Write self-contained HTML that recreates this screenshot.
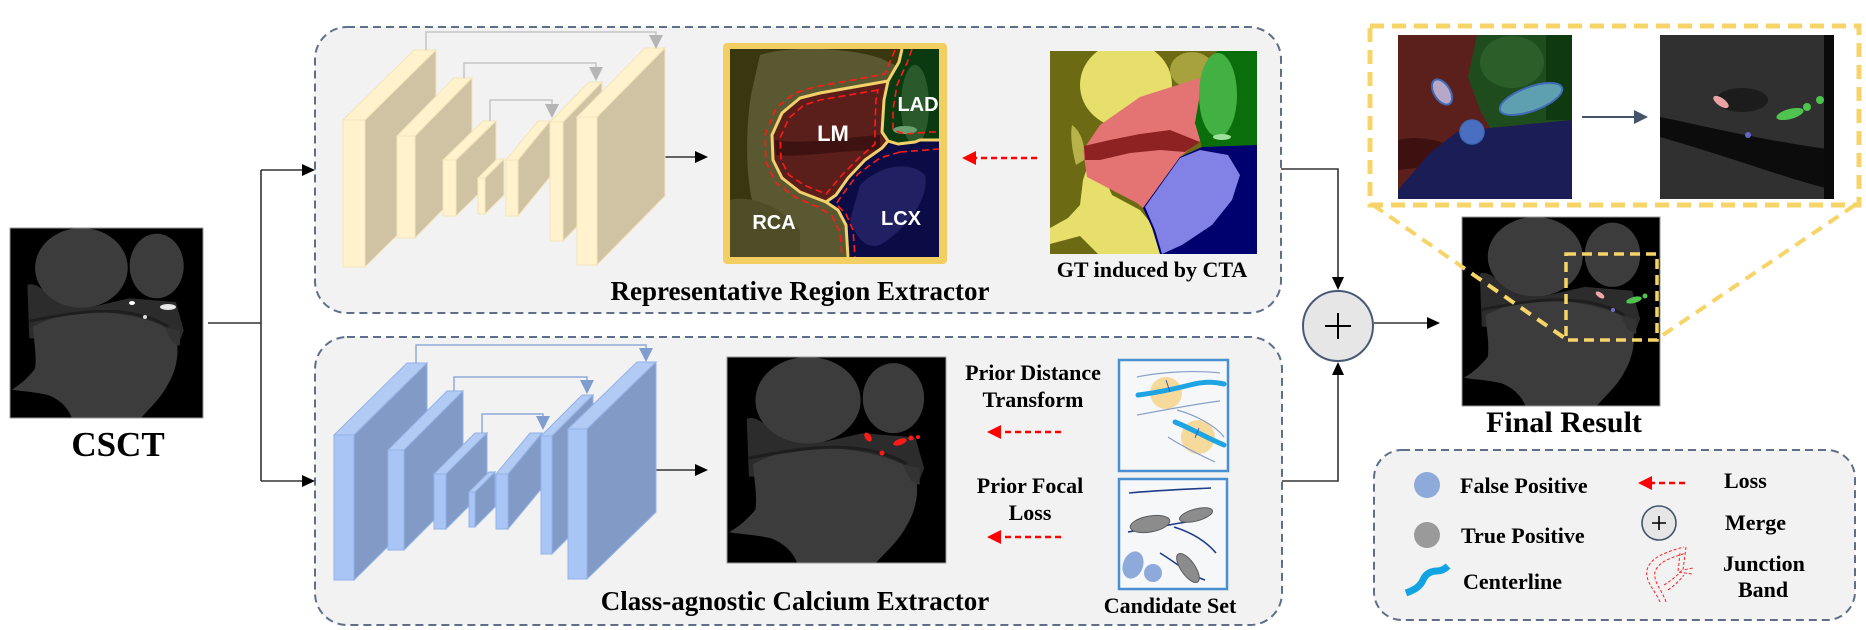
<!DOCTYPE html>
<html><head><meta charset="utf-8"><style>
html,body{margin:0;padding:0;background:#fff;}
svg{display:block;}
.t{font-family:"Liberation Serif",serif;font-weight:bold;fill:#000;}
.s{font-family:"Liberation Sans",sans-serif;font-weight:bold;fill:#fff;}
</style></head><body>
<svg width="1866" height="630" viewBox="0 0 1866 630" xmlns="http://www.w3.org/2000/svg">
<defs>
<symbol id="heart" viewBox="0 0 100 100" preserveAspectRatio="none">
 <rect width="100" height="100" fill="#000"/>
 <path d="M9 30 C14 28 18 34 25 39 L45 41 L62 37 L86 39 L90 54 L87 62 L10 58 Z" fill="#2c2c2c"/>
 <ellipse cx="37" cy="21" rx="24" ry="21" fill="#3c3c3c"/>
 <ellipse cx="76" cy="20" rx="14" ry="17" fill="#3c3c3c"/>
 <path d="M12 52 C22 46 35 44 45 44 C60 45 72 48 80 52 L86 58 C88 66 86 75 82 82 C78 90 72 95 68 100 L32 100 C30 94 25 90 20 88 C12 86 5 86 1 85 C6 82 10 78 13 74 C14 66 12 58 12 52 Z" fill="#3c3c3c"/>
 <path d="M10 49 C25 46 40 43 55 44 C68 45 76 48 82 52" fill="none" stroke="#1e1e1e" stroke-width="1.5"/>
 <path d="M80 52 L88 54 L88 62 L84 60 Z" fill="#333"/>
</symbol>
<clipPath id="lmclip"><rect x="730" y="49" width="209" height="208"/></clipPath>
<clipPath id="gtclip"><rect x="1050" y="51" width="207" height="203"/></clipPath>
<clipPath id="zlclip"><rect x="1398" y="35" width="174" height="164"/></clipPath>
<clipPath id="zrclip"><rect x="1660" y="35" width="174" height="164"/></clipPath>
</defs>

<!-- Boxes -->
<rect x="315" y="27" width="966" height="286" rx="32" fill="#f2f2f2" stroke="#5f6f8a" stroke-width="2" stroke-dasharray="8 5"/>
<rect x="315" y="337" width="967" height="288" rx="32" fill="#f2f2f2" stroke="#5f6f8a" stroke-width="2" stroke-dasharray="8 5"/>
<rect x="1374" y="450" width="481" height="170" rx="28" fill="#f2f2f2" stroke="#5f6f8a" stroke-width="2" stroke-dasharray="8 5"/>

<!-- CSCT -->
<use href="#heart" x="10" y="228" width="193" height="190"/>
<rect x="10" y="228" width="193" height="190" fill="none" stroke="#999" stroke-width="1"/>
<ellipse cx="132" cy="303" rx="3" ry="2" fill="#fff"/>
<ellipse cx="145" cy="317" rx="2" ry="2" fill="#ddd"/>
<ellipse cx="168" cy="307" rx="8" ry="3" fill="#e8e8e8"/>
<text class="t" x="118" y="456" font-size="35" text-anchor="middle">CSCT</text>

<!-- connectors from CSCT -->
<g stroke="#333" stroke-width="1.6" fill="none">
<path d="M208 323 H261 M261 170 V481 M261 170 H303 M261 481 H303"/>
<path d="M645 157 H696 M645 470 H696"/>
<path d="M1281 169 H1338 V278 M1282 481 H1338 V375 M1374 323 H1428"/>
</g>
<g fill="#000">
<polygon points="302,164 315,170 302,176"/>
<polygon points="302,475 315,481 302,487"/>
<polygon points="695,151 708,157 695,163"/>
<polygon points="695,464 708,470 695,476"/>
<polygon points="1332,277 1344,277 1338,290"/>
<polygon points="1332,375 1344,375 1338,362"/>
<polygon points="1427,317 1440,323 1427,329"/>
</g>

<!-- Top U-Net -->
<g stroke="#f3e4bb" stroke-width="1">
<polygon points="343,120 365,120 436,50 414,50" fill="#fff2cc"/><polygon points="365,120 436,50 436,197 365,267" fill="#cfc3a4"/><rect x="343" y="120" width="22" height="147" fill="#fff2cc"/>
<polygon points="397,136 415,136 472,78 454,78" fill="#fff2cc"/><polygon points="415,136 472,78 472,180 415,238" fill="#cfc3a4"/><rect x="397" y="136" width="18" height="102" fill="#fff2cc"/>
<polygon points="443,160 456,160 496,121 483,121" fill="#fff2cc"/><polygon points="456,160 496,121 496,177 456,216" fill="#cfc3a4"/><rect x="443" y="160" width="13" height="56" fill="#fff2cc"/>
<polygon points="478,178 485,178 504,159 497,159" fill="#fff2cc"/><polygon points="485,178 504,159 504,195 485,214" fill="#cfc3a4"/><rect x="478" y="178" width="7" height="36" fill="#fff2cc"/>
<polygon points="506,160 518,160 550,121 538,121" fill="#fff2cc"/><polygon points="518,160 550,121 550,177 518,216" fill="#cfc3a4"/><rect x="506" y="160" width="12" height="56" fill="#fff2cc"/>
<polygon points="550,122 563,122 602,82 589,82" fill="#fff2cc"/><polygon points="563,122 602,82 602,201 563,241" fill="#cfc3a4"/><rect x="550" y="122" width="13" height="119" fill="#fff2cc"/>
<polygon points="577,117 597,117 665,48 645,48" fill="#fff2cc"/><polygon points="597,117 665,48 665,196 597,265" fill="#cfc3a4"/><rect x="577" y="117" width="20" height="148" fill="#fff2cc"/>
</g>
<g stroke="#c4c4c4" stroke-width="1.5" fill="none">
<path d="M426 50 V32 H656 V36 M464 78 V63 H596 V68 M490 121 V100 H552 V105"/>
</g>
<g fill="#b5b5b5">
<polygon points="649,35 663,35 656,49"/>
<polygon points="589,67 603,67 596,81"/>
<polygon points="545,104 559,104 552,118"/>
</g>

<!-- Bottom U-Net -->
<g stroke="#93b2e6" stroke-width="1">
<polygon points="334,435 354,435 427,363 407,363" fill="#b2cbf5"/><polygon points="354,435 427,363 427,508 354,580" fill="#829bc6"/><rect x="334" y="435" width="20" height="145" fill="#a8c5f5"/>
<polygon points="388,450 404,450 463,391 447,391" fill="#b2cbf5"/><polygon points="404,450 463,391 463,491 404,550" fill="#829bc6"/><rect x="388" y="450" width="16" height="100" fill="#a8c5f5"/>
<polygon points="434,474 446,474 487,433 475,433" fill="#b2cbf5"/><polygon points="446,474 487,433 487,488 446,529" fill="#829bc6"/><rect x="434" y="474" width="12" height="55" fill="#a8c5f5"/>
<polygon points="469,492 475,492 495,472 489,472" fill="#b2cbf5"/><polygon points="475,492 495,472 495,507 475,527" fill="#829bc6"/><rect x="469" y="492" width="6" height="35" fill="#a8c5f5"/>
<polygon points="496,474 508,474 542,433 530,433" fill="#b2cbf5"/><polygon points="508,474 542,433 542,488 508,529" fill="#829bc6"/><rect x="496" y="474" width="12" height="55" fill="#a8c5f5"/>
<polygon points="541,436 552,436 593,395 582,395" fill="#b2cbf5"/><polygon points="552,436 593,395 593,513 552,554" fill="#829bc6"/><rect x="541" y="436" width="11" height="118" fill="#a8c5f5"/>
<polygon points="568,429 587,429 656,362 637,362" fill="#b2cbf5"/><polygon points="587,429 656,362 656,512 587,579" fill="#829bc6"/><rect x="568" y="429" width="19" height="150" fill="#a8c5f5"/>
</g>
<g stroke="#8ea9d8" stroke-width="1.5" fill="none">
<path d="M416 363 V345 H646 V349 M454 391 V377 H587 V381 M482 433 V414 H543 V417"/>
</g>
<g fill="#7f9dcf">
<polygon points="639,348 653,348 646,362"/>
<polygon points="580,380 594,380 587,394"/>
<polygon points="536,416 550,416 543,430"/>
</g>

<!-- LM image -->
<rect x="723" y="43" width="224" height="221" rx="4" fill="#f3cf62"/>
<g clip-path="url(#lmclip)">
 <rect x="730" y="49" width="209" height="208" fill="#393710"/>
 <path d="M760 55 C790 45 850 48 880 58 L905 70 L900 200 L850 257 L740 257 C733 240 745 220 752 200 C745 170 746 120 752 90 Z" fill="#5a5831"/>
 <path d="M730 200 C750 195 780 205 800 230 L800 257 L730 257 Z" fill="#4f4d27"/>
 <polygon points="888,81 820,93 800,98 782,113 772,135 773,160 782,178 800,192 826,202 836,195 848,178 865,160 882,148 888,141 882,132 884,100" fill="#5a1f1a"/>
 <path d="M775 140 C800 145 840 138 880 135 L880 150 C840 150 800 158 776 155 Z" fill="#3e1210"/>
 <polygon points="902,49 939,49 939,140 920,140 915,142 898,144 888,141 882,132 884,100 888,81 899,62" fill="#0c3a10"/>
 <ellipse cx="915" cy="105" rx="14" ry="40" fill="#2a5a2c"/>
 <ellipse cx="905" cy="130" rx="12" ry="4" fill="#6aa070"/>
 <polygon points="888,141 898,144 915,142 939,140 939,257 848,257 846,225 838,210 826,202 836,195 848,178 865,160 882,148" fill="#0b0b46"/>
 <path d="M860 185 C880 165 910 160 925 175 C930 200 905 230 880 245 C865 250 855 235 850 220 Z" fill="#202062"/>
 <g fill="none" stroke="#f2d06a" stroke-width="3" stroke-linejoin="round">
  <path d="M902 49 L899 62 L888 81 L820 93 L800 98 L782 113 L772 135 L773 160 L782 178 L800 192 L826 202 L838 210 L846 225 L848 257"/>
  <path d="M888 81 L884 100 L882 132 L888 141 L882 148 L865 160 L848 178 L836 195 L826 202"/>
  <path d="M888 141 L898 144 L915 142 L920 140 L939 140"/>
 </g>
 <g fill="none" stroke="#ff1a1a" stroke-width="1.6" stroke-dasharray="7 4">
  <path d="M895 50 L885 74 L815 87 L795 93 L776 108 L765 135 L766 162 L776 183 L797 198 L820 208 L832 216 L840 232 L842 257"/>
  <path d="M878 90 L820 100 L804 105 L789 118 L780 138 L781 160 L789 175 L804 185 L826 194 L842 175 L860 157 L875 144 L875 128 L876 100 Z"/>
  <path d="M900 152 L880 158 L858 174 L845 191 L836 204 L846 214 L853 230 L855 257"/>
  <path d="M912 49 L907 63 L897 85 L893 110 L893 130 L905 134 L930 132 L939 132"/>
  <path d="M900 152 L939 149"/>
 </g>
 <text class="s" x="833" y="141" font-size="22" text-anchor="middle">LM</text>
 <text class="s" x="918" y="111" font-size="20" text-anchor="middle">LAD</text>
 <text class="s" x="774" y="229" font-size="20" text-anchor="middle">RCA</text>
 <text class="s" x="901" y="225" font-size="20" text-anchor="middle">LCX</text>
</g>

<!-- red dashed arrows -->
<g stroke="#ff0000" stroke-width="2.5" stroke-dasharray="6 4" fill="none">
<path d="M1037 158 H975 M1061 432 H1000 M1061 537 H1000 M1685 483 H1650"/>
</g>
<g fill="#ff0000">
<polygon points="962,158 976,151 976,165"/>
<polygon points="987,432 1001,425 1001,439"/>
<polygon points="987,537 1001,530 1001,544"/>
<polygon points="1638,483 1652,476 1652,490"/>
</g>

<!-- GT image -->
<g clip-path="url(#gtclip)">
 <rect x="1050" y="51" width="207" height="203" fill="#6c6a12"/>
 <ellipse cx="1126" cy="85" rx="46" ry="43" fill="#e6df6c"/>
 <ellipse cx="1192" cy="70" rx="22" ry="18" fill="#a8a23e"/>
 <path d="M1050 228 L1068 218 L1080 205 L1083 180 L1088 165 L1100 168 L1112 195 L1140 210 L1150 222 L1160 254 L1050 254 Z" fill="#e6df6c"/>
 <path d="M1050 254 L1050 244 L1080 236 L1098 254 Z" fill="#6c6a12"/>
 <path d="M1072 125 C1080 130 1086 145 1084 160 L1076 165 C1072 150 1070 135 1072 125 Z" fill="#b8b24a"/>
 <polygon points="1083,150 1100,125 1140,97 1203,77 1195,123 1202,140 1197,143 1180,157 1143,208 1137,203 1087,177" fill="#e47474"/>
 <polygon points="1084,146 1110,140 1140,134 1170,130 1190,138 1200,142 1185,152 1160,150 1130,153 1100,160 1085,160" fill="#8e2222"/>
 <polygon points="1217,51 1257,51 1257,145 1202,147 1195,123 1203,77" fill="#0a6e0a"/>
 <ellipse cx="1218" cy="95" rx="19" ry="42" fill="#42b042"/>
 <ellipse cx="1222" cy="137" rx="9" ry="3" fill="#9ee09e"/>
 <polygon points="1202,147 1257,145 1257,254 1160,254 1153,230 1143,208 1180,157" fill="#00006e"/>
 <path d="M1145 207 L1180 158 L1200 150 L1228 155 L1240 175 L1232 200 L1212 225 L1182 245 L1162 254 L1155 230 Z" fill="#8282e6"/>
</g>
<text class="t" x="1152" y="277" font-size="22" text-anchor="middle">GT induced by CTA</text>
<text class="t" x="800" y="300" font-size="27" text-anchor="middle">Representative Region Extractor</text>

<!-- Bottom CT -->
<use href="#heart" x="727" y="357" width="219" height="206"/>
<rect x="727" y="357" width="219" height="206" fill="none" stroke="#999" stroke-width="1"/>
<g fill="#ff1a1a">
<ellipse cx="868" cy="437" rx="3" ry="5" transform="rotate(-35 868 437)"/>
<ellipse cx="900" cy="442" rx="7" ry="3" transform="rotate(-20 900 442)"/>
<circle cx="911" cy="438" r="2.5"/>
<circle cx="918" cy="437" r="2"/>
<circle cx="882" cy="453" r="2.5"/>
</g>
<text class="t" x="1033" y="380" font-size="22" text-anchor="middle">Prior Distance</text>
<text class="t" x="1033" y="407" font-size="22" text-anchor="middle">Transform</text>
<text class="t" x="1030" y="493" font-size="22" text-anchor="middle">Prior Focal</text>
<text class="t" x="1030" y="520" font-size="22" text-anchor="middle">Loss</text>
<text class="t" x="795" y="610" font-size="27" text-anchor="middle">Class-agnostic Calcium Extractor</text>

<!-- Candidate boxes -->
<rect x="1119" y="360" width="109" height="111" fill="#f6f7f9" stroke="#4a8fd0" stroke-width="2.5"/>
<circle cx="1166" cy="393" r="16" fill="#f6d690" opacity="0.9"/>
<circle cx="1198" cy="437" r="17" fill="#f6d690" opacity="0.9"/>
<g fill="none" stroke="#8aa0c8" stroke-width="1.2">
<path d="M1137 377 C1160 372 1195 370 1220 373"/>
<path d="M1137 415 C1165 410 1195 404 1220 401"/>
<path d="M1177 410 C1195 415 1215 425 1224 437"/>
<path d="M1168 437 C1180 445 1200 455 1215 462"/>
</g>
<g fill="none" stroke="#1ea4e2" stroke-width="5" stroke-linecap="round">
<path d="M1138 395 C1155 393 1170 390 1190 385 C1205 381 1215 382 1224 384"/>
<path d="M1175 422 C1190 428 1205 437 1224 445"/>
</g>
<g stroke="#3a5aa8" stroke-width="1">
<path d="M1166 380 L1170 392 M1199 428 L1195 438"/>
</g>
<rect x="1119" y="479" width="108" height="110" fill="#f6f7f9" stroke="#4a8fd0" stroke-width="2.5"/>
<g fill="none" stroke="#1f3c88" stroke-width="1.6">
<path d="M1129 493 C1160 490 1190 489 1211 488"/>
<path d="M1128 532 C1150 528 1175 524 1198 520"/>
<path d="M1174 527 C1190 532 1205 540 1216 553"/>
<path d="M1160 553 C1175 562 1190 575 1205 580"/>
</g>
<g fill="#8c8c8c" stroke="#5a5a5a" stroke-width="1">
<ellipse cx="1150" cy="524" rx="20" ry="8" transform="rotate(-10 1150 524)"/>
<ellipse cx="1196" cy="515" rx="17" ry="6" transform="rotate(-15 1196 515)"/>
<ellipse cx="1188" cy="568" rx="7" ry="17" transform="rotate(-35 1188 568)"/>
</g>
<g fill="#8eaadb">
<ellipse cx="1133" cy="565" rx="10" ry="14" transform="rotate(20 1133 565)"/>
<circle cx="1153" cy="573" r="9"/>
</g>
<text class="t" x="1170" y="613" font-size="22" text-anchor="middle">Candidate Set</text>

<!-- Merge circle -->
<circle cx="1338" cy="326" r="35" fill="#e6e6e6" stroke="#4a5a75" stroke-width="2"/>
<path d="M1325 326 H1351 M1338 313 V339" stroke="#000" stroke-width="2"/>

<!-- Final image -->
<use href="#heart" x="1462" y="217" width="198" height="189"/>
<rect x="1462" y="217" width="198" height="189" fill="none" stroke="#999" stroke-width="1"/>
<ellipse cx="1600" cy="295" rx="5" ry="2.5" transform="rotate(35 1600 295)" fill="#f0a8a8"/>
<ellipse cx="1634" cy="300" rx="8" ry="3" transform="rotate(-15 1634 300)" fill="#4fc24f"/>
<circle cx="1645" cy="296" r="2.5" fill="#4fc24f"/>
<circle cx="1613" cy="310" r="2" fill="#7070d0"/>
<text class="t" x="1564" y="432" font-size="30" text-anchor="middle">Final Result</text>

<!-- Zoom box -->
<g clip-path="url(#zlclip)">
 <rect x="1398" y="35" width="174" height="164" fill="#5b201c"/>
 <path d="M1398 140 C1420 135 1440 140 1460 150 L1440 165 L1398 170 Z" fill="#3e1010"/>
 <polygon points="1477,35 1572,35 1572,120 1490,128 1480,110 1468,77" fill="#1e4c1d"/>
 <ellipse cx="1512" cy="62" rx="32" ry="26" fill="#2c5e2a"/>
 <rect x="1546" y="35" width="26" height="85" fill="#0f3a10"/>
 <polygon points="1398,190 1430,153 1457,132 1490,128 1572,120 1572,199 1398,199" fill="#1b1d56"/>
 <ellipse cx="1442" cy="92" rx="8" ry="14" transform="rotate(-32 1442 92)" fill="#b8a8c8" stroke="#3f6ab8" stroke-width="2"/>
 <ellipse cx="1531" cy="99" rx="33" ry="12" transform="rotate(-20 1531 99)" fill="#5fa0b0" stroke="#3f6ab8" stroke-width="2"/>
 <circle cx="1472" cy="132" r="12" fill="#4a6ec2" stroke="#3f6ab8" stroke-width="1.5"/>
</g>
<g clip-path="url(#zrclip)">
 <rect x="1660" y="35" width="174" height="164" fill="#303030"/>
 <path d="M1660 117 C1700 125 1760 140 1834 150 L1834 190 C1790 180 1740 160 1660 137 Z" fill="#0c0c0c"/>
 <ellipse cx="1742" cy="100" rx="26" ry="12" fill="#1c1c1c"/>
 <rect x="1824" y="35" width="10" height="164" fill="#0a0a0a"/>
 <ellipse cx="1721" cy="102" rx="9" ry="4" transform="rotate(35 1721 102)" fill="#eaa2a2"/>
 <ellipse cx="1790" cy="114" rx="14" ry="5" transform="rotate(-15 1790 114)" fill="#4fc24f"/>
 <circle cx="1807" cy="107" r="4" fill="#4fc24f"/>
 <circle cx="1820" cy="100" r="4" fill="#4fc24f"/>
 <circle cx="1748" cy="135" r="3" fill="#6464c8"/>
</g>
<path d="M1582 117 H1636" stroke="#44546a" stroke-width="2"/>
<polygon points="1634,110 1648,117 1634,124" fill="#44546a"/>
<g fill="none" stroke="#f7d467" stroke-linecap="butt">
<rect x="1370" y="26" width="489" height="179" stroke-width="5" stroke-dasharray="14 8"/>
<rect x="1566" y="254" width="91" height="86" stroke-width="3.5" stroke-dasharray="10 6"/>
<path d="M1373 205 L1566 339 M1855 205 L1657 339" stroke-width="4" stroke-dasharray="12 8"/>
</g>

<!-- Legend -->
<circle cx="1427" cy="485" r="13" fill="#8eaadb"/>
<text class="t" x="1460" y="493" font-size="22">False Positive</text>
<circle cx="1427" cy="535" r="13" fill="#9a9a9a"/>
<text class="t" x="1461" y="543" font-size="22">True Positive</text>
<path d="M1406 593 C1414 590 1420 587 1423 580 C1426 573 1432 571 1437 571 C1442 571 1445 569 1448 566" fill="none" stroke="#12a3e3" stroke-width="7" stroke-linecap="butt"/>
<text class="t" x="1463" y="589" font-size="22">Centerline</text>
<text class="t" x="1724" y="488" font-size="22">Loss</text>
<circle cx="1659" cy="523" r="17" fill="#e6e6e6" stroke="#44546a" stroke-width="1.6"/>
<path d="M1652 523 H1666 M1659 516 V530" stroke="#000" stroke-width="1.6"/>
<text class="t" x="1725" y="530" font-size="22">Merge</text>
<g fill="none" stroke="#ff2020" stroke-width="1" stroke-dasharray="3 2">
<path d="M1660 602 C1655 590 1645 582 1647 570 C1650 558 1665 552 1684 547"/>
<path d="M1666 602 C1662 590 1653 582 1655 572 C1658 562 1670 558 1686 553"/>
<path d="M1686 547 L1683 570 L1693 568 M1680 553 L1678 572 L1692 574"/>
<path d="M1664 585 C1672 580 1678 575 1682 570 M1668 590 C1675 585 1680 580 1684 575"/>
</g>
<text class="t" x="1723" y="571" font-size="22">Junction</text>
<text class="t" x="1738" y="597" font-size="22">Band</text>
</svg>
</body></html>
